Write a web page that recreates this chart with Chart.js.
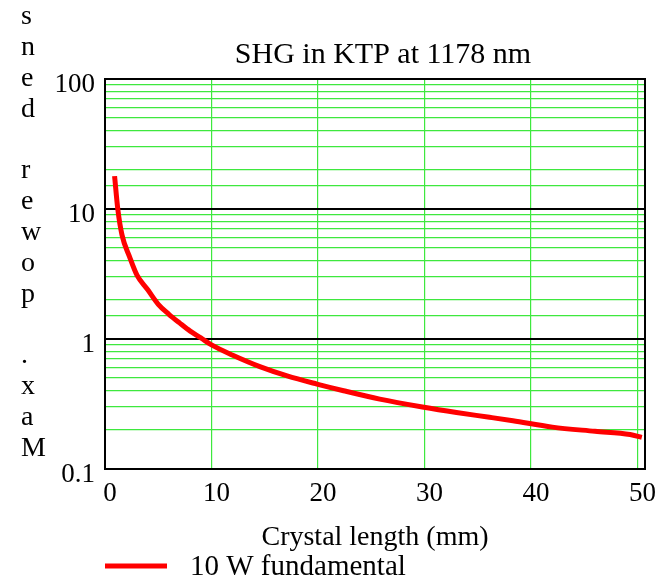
<!DOCTYPE html>
<html>
<head>
<meta charset="utf-8">
<script src="https://cdn.jsdelivr.net/npm/chart.js@4"></script>
<style>
  html, body { margin: 0; padding: 0; background: #fff; }
  #wrap { width: 662px; height: 581px; }
</style>
</head>
<body>
<div id="wrap"><canvas id="chart" width="662" height="581"></canvas></div>
<script>
// Data
const lengthMm = [0.9, 1.2, 1.6, 2.3, 3.0, 4.0, 5.0, 6.0, 7.0, 8.0, 9.0, 10.0, 12.0, 14.6, 17.1, 19.9, 22.4, 25.8, 29.8, 33.0, 36.1, 38.3, 42.0, 46.0, 49.3, 50.4];
const maxPower = [17.9, 10.0, 6.3, 4.3, 3.1, 2.4, 1.85, 1.55, 1.33, 1.15, 1.02, 0.90, 0.75, 0.61, 0.52, 0.45, 0.40, 0.345, 0.30, 0.272, 0.25, 0.235, 0.21, 0.195, 0.184, 0.175];
const seriesLabel = '10 W fundamental';
const titleText = 'SHG in KTP at 1178 nm';
const xTitle = 'Crystal length (mm)';
const yTitle = 'Max. power dens';
const yDecades = [0.1, 1, 10, 100];

const FONT = 'Liberation Serif, Times New Roman, serif';

function isDecade(v) {
    return yDecades.some(d => Math.abs(v - d) / d < 1e-6);
}

// Title, stacked y label, frame and legend
const decorations = {
    id: 'decorations',
    afterDraw(chart) {
        const ctx = chart.ctx;
        const area = chart.chartArea;
        ctx.save();
        ctx.fillStyle = '#000';

        ctx.font = '30px ' + FONT;
        ctx.textAlign = 'center';
        ctx.textBaseline = 'alphabetic';
        ctx.fillText(titleText, 383, 63);

        // y label: letters stacked, read bottom to top
        ctx.font = '28px ' + FONT;
        ctx.textAlign = 'left';
        ctx.textBaseline = 'middle';
        const chars = yTitle.split('').reverse();
        chars.forEach((c, i) => ctx.fillText(c, 21, 17 + i * 30.8));

        // frame
        ctx.strokeStyle = '#000';
        ctx.lineWidth = 2;
        ctx.strokeRect(area.left, area.top, area.right - area.left, area.bottom - area.top);

        // legend
        const ds = chart.data.datasets[0];
        ctx.strokeStyle = ds.borderColor;
        ctx.lineWidth = 5;
        ctx.beginPath();
        ctx.moveTo(105, 566);
        ctx.lineTo(167, 566);
        ctx.stroke();
        ctx.font = '29px ' + FONT;
        ctx.fillText(ds.label, 190, 567);
        ctx.restore();
    }
};

const ctx = document.getElementById('chart').getContext('2d');
const chart = new Chart(ctx, {
    type: 'line',
    data: {
        datasets: [{
            label: seriesLabel,
            data: lengthMm.map((x, i) => ({ x: x, y: maxPower[i] })),
            borderColor: '#ff0000',
            borderWidth: 5,
            pointRadius: 0,
            cubicInterpolationMode: 'monotone',
            fill: false
        }]
    },
    options: {
        responsive: false,
        animation: false,
        layout: { padding: { top: 79, right: 17, left: 0, bottom: 0 } },
        plugins: {
            legend: { display: false },
            title: { display: false },
            tooltip: { enabled: false }
        },
        scales: {
            x: {
                type: 'linear',
                min: 0,
                max: 50.7,
                afterFit: s => { s.height = 112; },
                ticks: {
                    stepSize: 10,
                    includeBounds: false,
                    color: '#000',
                    font: { family: FONT, size: 27 },
                    padding: 9,
                    labelOffset: 5,
                    maxRotation: 0
                },
                grid: {
                    color: '#3ee83e',
                    lineWidth: 1.2,
                    drawTicks: false
                },
                border: { display: false },
                title: {
                    display: true,
                    text: xTitle,
                    color: '#000',
                    font: { family: FONT, size: 28 },
                    padding: { top: 0, bottom: 27 }
                }
            },
            y: {
                type: 'logarithmic',
                min: 0.1,
                max: 100,
                afterFit: s => { s.width = 105; },
                ticks: {
                    autoSkip: false,
                    color: '#000',
                    font: { family: FONT, size: 27 },
                    padding: 10,
                    labelOffset: 6,
                    callback: v => isDecade(v) ? String(v) : ''
                },
                grid: {
                    color: c => isDecade(c.tick.value) ? '#000' : '#3ee83e',
                    lineWidth: c => isDecade(c.tick.value) ? 2 : 1.3,
                    drawTicks: false
                },
                border: { display: false }
            }
        }
    },
    plugins: [decorations]
});
</script>
</body>
</html>
